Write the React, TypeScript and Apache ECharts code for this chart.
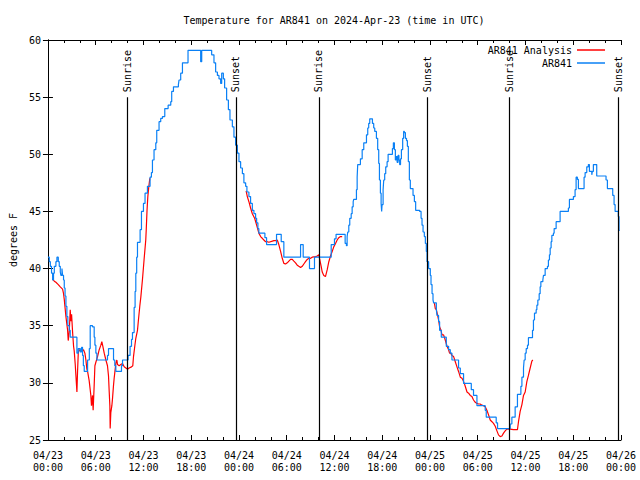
import { useEffect, useRef } from 'react';
import * as echarts from 'echarts';

// hours since 2024-04-23 00:00 UTC, temperature (deg F)
const ar841Obs: [number, number][] = [
  [0.0,41.0],[0.17,40.6],[0.3,40.2],[0.45,39.6],[0.59,39.0],[0.7,39.6],[0.8,40.2],[1.0,40.6],[1.13,41.0],[1.3,40.6],[1.42,40.2],[1.55,39.7],[1.63,39.4],[1.76,40.0],[1.84,39.4],[1.96,39.0],[2.05,38.3],[2.15,37.6],[2.26,36.7],[2.38,35.8],[2.5,35.0],[2.68,34.6],[2.8,34.0],[3.64,32.6],[3.81,33.0],[4.06,32.7],[4.22,33.1],[4.35,32.4],[4.45,31.5],[4.56,31.0],[4.98,32.0],[5.2,33.0],[5.31,35.0],[5.6,34.9],[5.81,34.0],[5.9,33.3],[6.02,32.6],[6.15,32.0],[7.48,32.4],[7.61,33.0],[8.24,32.0],[8.4,31.5],[8.53,31.0],[9.24,31.5],[9.37,32.0],[10.07,32.4],[10.32,33.2],[10.5,33.8],[10.62,34.4],[10.83,36.6],[10.95,38.0],[11.04,39.6],[11.15,41.0],[11.25,42.3],[11.58,43.4],[11.75,45.0],[12.0,45.7],[12.2,46.6],[12.5,47.2],[12.83,48.0],[13.0,48.4],[13.13,49.5],[13.33,50.4],[13.55,51.0],[13.67,52.1],[13.96,52.85],[14.17,53.15],[14.39,53.3],[14.68,54.0],[15.1,54.3],[15.43,54.6],[15.55,55.5],[15.77,55.9],[16.39,56.1],[16.47,56.5],[16.68,57.1],[16.9,58.0],[17.6,59.1],[19.19,58.1],[19.32,59.1],[20.57,58.7],[20.86,58.0],[21.07,57.2],[21.29,56.9],[21.49,56.6],[21.7,56.2],[21.83,57.1],[22.04,56.6],[22.2,55.8],[22.45,54.75],[22.67,53.9],[22.87,53.0],[23.17,52.4],[23.37,51.5],[23.58,50.8],[23.8,50.1],[24.0,49.35],[24.21,48.8],[24.43,48.3],[24.62,47.5],[24.84,47.2],[25.0,46.7],[25.25,46.3],[25.46,45.7],[25.68,45.1],[25.88,44.8],[26.09,44.4],[26.22,44.0],[26.38,43.5],[26.5,43.1],[27.26,42.7],[27.47,42.1],[28.72,43.0],[29.31,42.35],[29.64,41.0],[31.74,42.1],[32.07,41.0],[32.86,40.0],[33.49,41.0],[35.59,42.1],[36.0,42.6],[36.2,43.0],[37.34,42.2],[37.5,42.0],[37.59,42.8],[37.67,43.2],[37.8,43.8],[37.92,44.4],[38.1,44.8],[38.22,45.4],[38.35,45.85],[38.42,46.05],[38.76,46.9],[38.85,48.0],[38.92,49.1],[39.26,49.6],[39.48,50.4],[39.68,51.0],[40.02,51.7],[40.18,52.3],[40.3,52.7],[40.43,53.1],[40.77,52.7],[40.93,52.3],[41.06,52.0],[41.27,51.4],[41.43,50.4],[41.56,49.2],[41.65,47.75],[41.77,46.6],[41.86,45.7],[41.93,45.0],[41.98,45.6],[42.11,46.9],[42.19,47.75],[42.31,48.3],[42.44,48.9],[42.61,49.35],[42.74,50.0],[43.28,50.5],[43.4,51.0],[43.53,50.4],[43.65,49.5],[43.75,49.8],[43.87,49.3],[43.99,49.9],[44.1,49.5],[44.19,49.1],[44.3,49.6],[44.41,50.4],[44.57,51.4],[44.69,52.0],[44.78,51.9],[44.91,51.4],[45.05,51.2],[45.16,50.7],[45.28,49.35],[45.41,47.75],[45.53,47.0],[45.87,46.4],[46.04,45.85],[46.2,45.1],[46.7,45.0],[46.88,44.4],[47.0,43.8],[47.13,43.2],[47.29,42.8],[47.42,42.2],[47.54,41.5],[47.63,40.6],[47.83,40.0],[48.04,39.4],[48.13,38.6],[48.26,37.8],[48.38,37.25],[48.46,37.0],[48.8,36.4],[48.88,35.9],[49.08,35.35],[49.21,34.6],[49.42,34.0],[50.05,33.2],[50.34,32.9],[50.55,32.6],[50.76,32.0],[51.59,31.3],[51.81,30.8],[52.22,29.95],[53.19,29.4],[53.47,28.9],[53.9,28.0],[54.94,27.6],[55.07,27.0],[56.32,26.5],[56.49,26.0],[58.08,26.4],[58.29,27.0],[58.7,27.9],[58.99,29.0],[59.42,29.7],[59.55,30.5],[59.75,31.3],[59.83,32.0],[59.96,32.6],[60.09,33.0],[60.25,33.3],[60.37,33.95],[60.88,34.6],[61.0,35.5],[61.13,36.1],[61.34,36.4],[61.43,36.8],[61.55,37.25],[61.72,37.8],[61.84,38.4],[61.93,38.85],[62.18,39.0],[62.26,39.4],[62.47,40.0],[62.76,40.2],[62.88,40.75],[63.01,41.2],[63.1,41.8],[63.22,42.35],[63.31,42.9],[63.51,43.1],[63.6,43.5],[63.85,44.1],[64.35,45.0],[65.39,45.3],[65.52,46.05],[66.02,46.3],[66.23,46.9],[66.36,48.0],[66.52,47.8],[66.65,47.0],[67.36,48.0],[67.49,48.4],[67.7,48.9],[67.9,49.1],[68.03,48.5],[68.33,48.2],[68.4,48.5],[68.53,49.1],[68.95,48.1],[70.12,47.75],[70.29,47.0],[70.96,46.4],[71.13,45.6],[71.26,45.0],[71.66,44.55],[71.75,43.4],[71.8,43.3]
];

const analysisNight1: [number, number][] = [
  [0.55,39.1],[0.8,38.9],[1.0,38.8],[1.3,38.6],[1.55,38.4],[1.84,38.2],[1.96,37.8],[2.05,37.3],[2.26,35.8],[2.47,34.6],[2.55,33.7],[2.68,34.5],[2.8,36.4],[2.88,35.4],[2.97,36.0],[3.1,34.4],[3.22,33.2],[3.3,32.8],[3.43,31.6],[3.51,30.7],[3.64,29.2],[3.72,31.0],[3.81,32.6],[3.93,32.9],[4.14,32.8],[4.35,32.8],[4.47,32.9],[4.64,32.6],[4.77,32.0],[4.89,31.2],[4.98,31.0],[5.18,30.2],[5.39,28.9],[5.47,28.0],[5.6,28.9],[5.68,27.6],[5.81,29.8],[5.9,31.5],[6.02,31.8],[6.23,32.3],[6.44,32.9],[6.65,33.3],[6.77,33.6],[6.9,33.2],[7.07,32.6],[7.28,32.0],[7.48,31.5],[7.61,30.6],[7.7,29.2],[7.78,28.0],[7.82,26.0],[7.9,27.4],[8.03,28.0],[8.11,28.6],[8.24,29.8],[8.32,30.4],[8.4,30.9],[8.53,31.7],[8.66,32.0],[8.74,31.6],[8.95,31.5],[9.16,31.6],[9.37,31.7],[9.58,31.4],[9.79,31.3],[10.0,31.2],[10.2,31.3],[10.5,31.4],[10.66,31.5],[10.75,32.3],[10.91,33.2],[11.04,33.9],[11.25,34.6],[11.37,35.5],[11.54,36.7],[11.67,37.5],[11.87,39.0],[12.08,40.8],[12.29,42.5],[12.35,43.4],[12.45,45.1],[12.55,46.3],[12.68,47.2],[12.8,47.9]
];

const analysisNight2: [number, number][] = [
  [24.9,46.8],[25.05,46.3],[25.25,45.85],[25.46,45.3],[25.68,44.8],[25.97,44.4],[26.22,43.8],[26.5,43.1],[26.72,42.8],[26.93,42.65],[27.13,42.5],[27.35,42.35],[27.56,42.35],[27.76,42.3],[28.19,42.4],[28.39,42.45],[28.6,42.45],[28.81,42.5],[29.01,42.1],[29.23,41.5],[29.44,40.9],[29.64,40.45],[29.85,40.4],[30.07,40.5],[30.27,40.65],[30.48,40.8],[30.7,40.8],[30.9,40.65],[31.11,40.5],[31.32,40.3],[31.52,40.2],[31.74,40.1],[31.95,40.2],[32.15,40.4],[32.36,40.6],[32.58,40.8],[32.78,40.9],[33.0,40.9],[33.2,41.0],[33.62,41.05],[33.83,41.1],[34.03,41.2],[34.16,40.75],[34.33,40.2],[34.46,39.7],[34.66,39.4],[34.87,39.3],[35.09,39.9],[35.29,40.6],[35.5,41.1],[35.71,41.5],[35.91,41.9],[36.13,42.2],[36.34,42.5],[36.54,42.7],[36.75,42.8],[36.97,42.8]
];

const analysisNight3: [number, number][] = [
  [48.55,37.0],[48.67,36.5],[48.8,36.4],[48.96,35.9],[49.08,35.5],[49.21,34.9],[49.39,34.6],[49.51,34.2],[49.71,34.2],[49.92,33.75],[50.14,33.2],[50.34,32.9],[50.46,32.6],[50.6,32.6],[50.76,32.4],[50.97,32.3],[51.18,31.85],[51.39,31.4],[51.59,31.0],[51.81,30.5],[52.02,30.4],[52.14,30.25],[52.31,29.95],[52.43,29.7],[52.65,29.2],[52.85,29.1],[53.06,28.9],[53.27,28.8],[53.47,28.5],[53.69,28.3],[53.9,28.2],[54.1,28.15],[54.3,28.15],[54.53,28.05],[54.73,28.0],[54.94,27.9],[55.15,27.6],[55.36,27.2],[55.57,26.75],[55.78,26.6],[55.98,26.45],[56.2,26.2],[56.41,25.8],[56.61,25.45],[56.82,25.3],[57.04,25.35],[57.24,25.6],[57.45,25.8],[57.66,25.95],[57.87,25.95],[58.08,25.95],[58.49,25.9],[58.83,25.9],[58.99,25.9],[59.12,26.6],[59.33,27.5],[59.55,28.1],[59.75,28.9],[59.96,29.2],[60.17,30.1],[60.37,30.65],[60.59,31.3],[60.8,31.9],[60.92,32.0]
];

const sunEvents: { name: string; hour: number }[] = [
  { name: 'Sunrise', hour: 9.95 },
  { name: 'Sunset', hour: 23.62 },
  { name: 'Sunrise', hour: 34.04 },
  { name: 'Sunset', hour: 47.7 },
  { name: 'Sunrise', hour: 57.99 },
  { name: 'Sunset', hour: 71.66 },
];

const startDay = 23;
const yMin = 25, yMax = 60, yStep = 5;
const xMin = 0, xMax = 72, xStep = 6;
const sunLineTop = 55;

const FONT = 'DejaVu Sans Mono';
const RED = '#ff0000';
const BLUE = '#0a80f5';

function xLabel(v: number): string {
  const day = startDay + Math.floor(v / 24);
  const hr = Math.round(v % 24);
  return '04/' + String(day).padStart(2, '0') + '\n' + String(hr).padStart(2, '0') + ':00';
}

export default function App() {
  const ref = useRef<HTMLDivElement>(null);
  useEffect(() => {
    const chart = echarts.init(ref.current!, null, { renderer: 'svg' });
    const analysis: (number | null)[][] = [
      ...analysisNight1, [13.0, null],
      ...analysisNight2, [37.2, null],
      ...analysisNight3,
    ];
    const markData: any[] = [];
    sunEvents.forEach((e) => {
      markData.push([
        { coord: [e.hour, yMin], lineStyle: { color: '#000', width: 1.2, type: 'solid' }, label: { show: false } },
        { coord: [e.hour, sunLineTop] },
      ]);
      markData.push([
        {
          coord: [e.hour, sunLineTop],
          lineStyle: { color: 'rgba(0,0,0,0)', width: 0 },
          label: {
            show: true, position: 'insideStart', formatter: e.name, distance: 5,
            color: '#000', fontFamily: FONT, fontSize: 10, opacity: 1,
          },
        },
        { coord: [e.hour, yMax] },
      ]);
    });
    const axisCommonX = {
      type: 'value' as const, min: xMin, max: xMax, interval: xStep,
      axisLine: { show: true, lineStyle: { color: '#000', width: 1 } },
      axisTick: { show: true, inside: true, length: 5, lineStyle: { color: '#000' } },
      minorTick: { show: true, splitNumber: 3, length: 3, lineStyle: { color: '#000' } },
      splitLine: { show: false },
    };
    const axisCommonY = {
      type: 'value' as const, min: yMin, max: yMax, interval: yStep,
      axisLine: { show: true, lineStyle: { color: '#000', width: 1 } },
      axisTick: { show: true, inside: true, length: 5, lineStyle: { color: '#000' } },
      splitLine: { show: false },
    };
    chart.setOption({
      animation: false,
      backgroundColor: '#fff',
      title: {
        text: 'Temperature for AR841 on 2024-Apr-23 (time in UTC)',
        left: 329, top: 10, textAlign: 'center',
        textStyle: { fontFamily: FONT, fontSize: 10, fontWeight: 'normal', color: '#000' },
      },
      legend: {
        data: ['AR841 Analysis', 'AR841'],
        orient: 'vertical', right: 30, top: 40, align: 'right',
        icon: 'rect', itemWidth: 28, itemHeight: 1.5, itemGap: 3,
        textStyle: { fontFamily: FONT, fontSize: 10, color: '#000' },
      },
      grid: { left: 47, right: 19, top: 40, bottom: 40, show: false },
      xAxis: [
        {
          ...axisCommonX, position: 'bottom',
          axisLabel: {
            formatter: xLabel, fontFamily: FONT, fontSize: 10, color: '#000',
            lineHeight: 12.5, margin: 9, showMinLabel: true, showMaxLabel: true,
          },
        },
        { ...axisCommonX, position: 'top', axisLabel: { show: false } },
      ],
      yAxis: [
        {
          ...axisCommonY, position: 'left',
          name: 'degrees F', nameLocation: 'middle', nameGap: 29, nameRotate: 90,
          nameTextStyle: { fontFamily: FONT, fontSize: 10, color: '#000' },
          axisLabel: { fontFamily: FONT, fontSize: 10, color: '#000', margin: 7 },
        },
        { ...axisCommonY, position: 'right', axisLabel: { show: false } },
      ],
      series: [
        {
          name: 'AR841 Analysis', type: 'line', data: analysis,
          symbol: 'none', connectNulls: false,
          lineStyle: { color: RED, width: 1.2 }, itemStyle: { color: RED },
          markLine: { silent: true, symbol: ['none', 'none'], animation: false, data: markData },
        },
        {
          name: 'AR841', type: 'line', data: ar841Obs, step: 'end',
          symbol: 'none',
          lineStyle: { color: BLUE, width: 1.2 }, itemStyle: { color: BLUE },
        },
      ],
    });
    return () => chart.dispose();
  }, []);
  return <div ref={ref} style={{ position: 'fixed', left: 0, top: 0, width: 640, height: 480 }} />;
}
